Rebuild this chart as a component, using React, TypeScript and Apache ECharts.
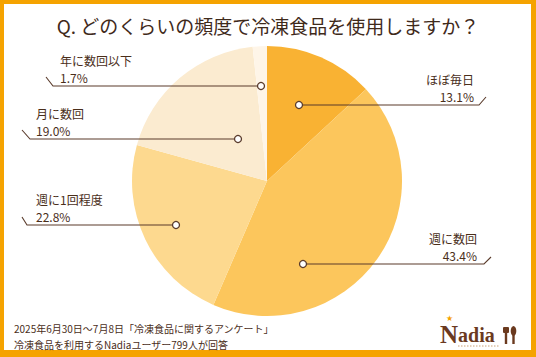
import React, { useEffect, useRef } from "react";
import * as echarts from "echarts";

const categories = ["ほぼ毎日", "週に数回", "週に1回程度", "月に数回", "年に数回以下"];
const values = [13.1, 43.4, 22.8, 19.0, 1.7];
const sliceColors = ["#F9B233", "#FCC65C", "#FDD98F", "#FBEBD0", "#FEF5E8"];

const titleText = "Q. どのくらいの頻度で冷凍食品を使用しますか？";
const footerLines = [
  "2025年6月30日～7月8日「冷凍食品に関するアンケート」",
  "冷凍食品を利用するNadiaユーザー799人が回答",
];

// annotation (leader line) layout for each slice label
const leaders = [
  { marker: [299, 105], elbow: [479, 105], end: [486, 97], textX: 474, align: "right" },
  { marker: [303, 264], elbow: [484, 264], end: [491, 257], textX: 477, align: "right" },
  { marker: [176, 225], elbow: [27, 225], end: [22, 217], textX: 36, align: "left" },
  { marker: [238, 139], elbow: [30, 139], end: [22, 130], textX: 36, align: "left" },
  { marker: [261, 86], elbow: [53, 86], end: [46, 77], textX: 60, align: "left" },
];

const BROWN = "#4A2E1A";
const LINE = "#5A3B2B";
const ORANGE = "#F5A300";
const LOGO = "#6B3A1F";
const JP = "'Noto Sans CJK JP', 'Noto Sans', sans-serif";

export default function App() {
  const ref = useRef<HTMLDivElement>(null);
  useEffect(() => {
    document.body.style.margin = "0";
    const chart = echarts.init(ref.current!, undefined, { renderer: "svg" });
    const leaderEls: any[] = [];
    leaders.forEach((l) => {
      leaderEls.push({
        type: "polyline",
        z: 99,
        shape: { points: [l.marker, l.elbow, l.end] },
        style: { stroke: LINE, lineWidth: 1.1, fill: null },
      });
      leaderEls.push({
        type: "circle",
        z: 100,
        shape: { cx: l.marker[0], cy: l.marker[1], r: 3.5 },
        style: { fill: "#fff", stroke: LINE, lineWidth: 1.3 },
      });
    });
    chart.setOption({
      animation: false,
      title: {
        text: titleText,
        left: "center",
        top: 11,
        textStyle: { fontSize: 19, fontWeight: "normal", color: "#3F2A1B", fontFamily: JP },
      },
      graphic: {
        elements: [
          { type: "rect", z: -10, shape: { x: 0, y: 0, width: 536, height: 357 }, style: { fill: ORANGE } },
          { type: "rect", z: -9, shape: { x: 4, y: 4, width: 527, height: 346 }, style: { fill: "#fff" } },
          ...leaderEls,
          {
            type: "text",
            left: 14,
            top: 320,
            style: {
              text: footerLines.join("\n"),
              fontSize: 10,
              lineHeight: 16,
              fill: BROWN,
              fontFamily: JP,
            },
          },
          // logo
          {
            type: "text",
            left: 440,
            top: 322,
            style: {
              text: "{n|N}{a|adia}",
              rich: {
                n: { fontSize: 25, fontWeight: "bold", fontFamily: "'Liberation Serif', serif", fill: LOGO },
                a: { fontSize: 20, fontWeight: "bold", fontFamily: "'Liberation Serif', serif", fill: LOGO },
              },
            },
          },
          {
            type: "text",
            left: 446,
            top: 314,
            style: { text: "★", fontSize: 8, fill: ORANGE },
          },
          { type: "rect", shape: { x: 503, y: 327, width: 6, height: 6, r: 1 }, style: { fill: LOGO } },
          { type: "rect", shape: { x: 504.8, y: 330, width: 2.4, height: 14 }, style: { fill: LOGO } },
          { type: "ellipse", shape: { cx: 513.5, cy: 331, rx: 2.8, ry: 5 }, style: { fill: LOGO } },
          { type: "rect", shape: { x: 512.3, y: 333, width: 2.4, height: 11 }, style: { fill: LOGO } },
          { type: "line", shape: { x1: 458, y1: 346, x2: 500, y2: 346 }, style: { stroke: "#C9A27A", lineWidth: 1, lineDash: [1.5, 1.5] } },
        ],
      },
      series: [
        {
          type: "pie",
          center: [267, 181],
          radius: 135,
          startAngle: 90,
          clockwise: true,
          avoidLabelOverlap: false,
          itemStyle: { borderWidth: 0 },
          emphasis: { disabled: true },
          data: categories.map((name, i) => ({
            name,
            value: values[i],
            itemStyle: { color: sliceColors[i] },
          })),
          label: {
            show: true,
            position: "outside",
            formatter: (p: any) => `${p.name}\n${Number(p.value).toFixed(1)}%`,
            fontSize: 12,
            lineHeight: 17.5,
            color: BROWN,
            fontFamily: JP,
          },
          labelLine: { show: false },
          labelLayout: (params: any) => {
            const l = leaders[params.dataIndex];
            return {
              x: l.textX,
              y: l.elbow[1] + 0.5,
              align: l.align,
              verticalAlign: "bottom",
            };
          },
        },
      ],
    });
    return () => chart.dispose();
  }, []);
  return <div ref={ref} style={{ width: 536, height: 357 }} />;
}
